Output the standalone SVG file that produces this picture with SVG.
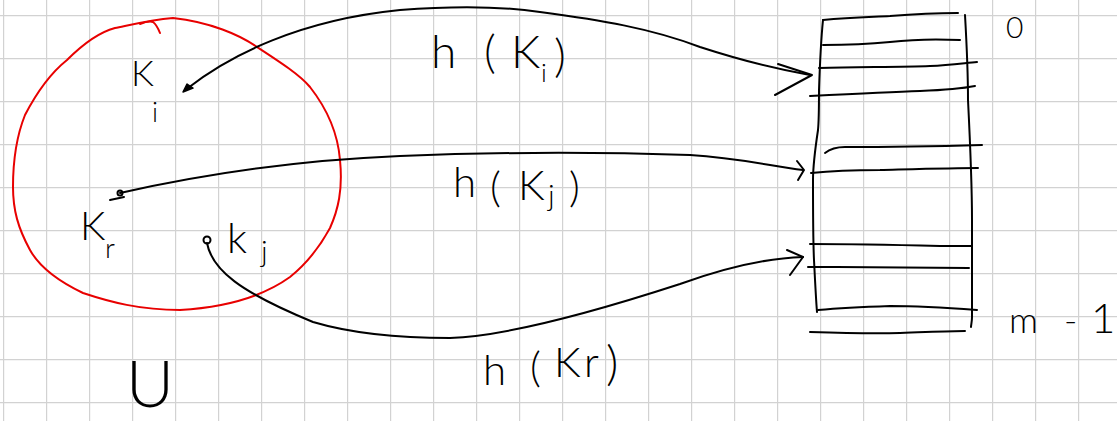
<svg xmlns="http://www.w3.org/2000/svg" width="1117" height="421" viewBox="0 0 1117 421">
  <style>
    .ink { fill: none; stroke: #000; stroke-width: 2; stroke-linecap: round; stroke-linejoin: round; }
    .red { fill: none; stroke: #e80000; stroke-width: 2; stroke-linecap: round; stroke-linejoin: round; }
    .lbl { font-family: Lato, "Open Sans", "DejaVu Sans", sans-serif; font-weight: 300; fill: #000; }
  </style>
  <defs>
    <pattern id="grid" x="3" y="15" width="43" height="43" patternUnits="userSpaceOnUse">
      <path d="M 0 0 V 43 M 0 0 H 43" stroke="#d2d2d2" stroke-width="2.4" fill="none"/>
    </pattern>
  </defs>
  <rect width="1117" height="421" fill="#fff"/>
  <rect width="1117" height="421" fill="url(#grid)"/>

  <g id="universe">
    <path class="red" d="M 173 18 C 210 22 240 35 257 47 C 280 62 300 75 310 87 C 328 110 338 135 340 160 C 343 190 338 210 330 228 C 318 250 305 265 290 277 C 265 295 230 307 180 310 C 140 310 110 302 83 293 C 60 282 40 268 30 250 C 18 228 13 210 13 187 C 13 160 17 135 25 115 C 38 90 52 72 67 60 C 85 42 100 32 115 28 C 130 25 150 20 173 18 Z"/>
    <path class="red" d="M 140 24 C 145 22 150 21 153 22 C 156 24 158 28 160 33"/>
    <text class="lbl" x="126" y="407" font-size="66">U</text>
  </g>

  <g id="key-i">
    <text class="lbl" font-size="36"><tspan x="131" y="86">K</tspan><tspan x="152" y="122" font-size="27">i</tspan></text>
  </g>
  <g id="key-r">
    <text class="lbl" font-size="40"><tspan x="80" y="240">K</tspan><tspan x="105" y="258" font-size="28">r</tspan></text>
  </g>
  <g id="key-j">
    <text class="lbl" font-size="42"><tspan x="227" y="253">k</tspan><tspan x="261" y="262" font-size="30">j</tspan></text>
  </g>

  <g id="table">
    <path class="ink" d="M 823 20 C 821 40 820 60 819 90 C 819 110 819 120 818 130 C 815 150 813 165 813 180 C 813 210 813 240 814 260 C 815 280 816 300 817 312"/>
    <path class="ink" d="M 965 15 C 967 50 968 80 968 100 C 970 140 972 180 972 220 C 972 260 972 290 972 317 C 972 322 971 325 971 327"/>
    <path class="ink" d="M 823 20 C 850 17 870 17 890 16 C 915 14 935 13 958 13"/>
    <path class="ink" d="M 823 45 C 850 45 870 44 890 42 C 915 39 940 39 960 40"/>
    <path class="ink" d="M 819 68 C 860 67 900 67 930 66 C 950 65 965 63 977 62"/>
    <path class="ink" d="M 810 96 C 850 94 890 92 920 91 C 945 90 965 88 975 86"/>
    <path class="ink" d="M 825 153 C 830 149 838 147 845 147 C 900 147 945 146 982 145"/>
    <path class="ink" d="M 811 173 C 830 171 850 170 880 170 C 920 169 955 168 978 168"/>
    <path class="ink" d="M 810 244 C 860 244 900 245 940 246 C 955 246 965 246 972 246"/>
    <path class="ink" d="M 808 267 C 860 267 910 268 969 268"/>
    <path class="ink" d="M 818 310 C 840 308 860 307 890 306 C 920 306 950 308 977 310"/>
    <path class="ink" d="M 810 332 C 840 333 870 334 900 333 C 930 332 950 331 965 331"/>
    <text class="lbl" x="1006" y="38" font-size="30">0</text>
    <text class="lbl" font-size="36"><tspan x="1009" y="333">m</tspan><tspan x="1064" y="333">-</tspan><tspan x="1091" y="333" font-size="42">1</tspan></text>
  </g>

  <g id="connectors">
    <path class="ink" d="M 188 88 C 230 55 300 20 400 10 C 450 6 500 6 540 12 C 600 20 650 28 700 47 C 740 60 770 68 810 75"/>
    <path class="ink" d="M 778 64 L 812 75 L 775 95"/>
    <path d="M 183 92 L 187 84 L 193 88 Z" fill="#000" stroke="#000" stroke-width="1.5" stroke-linejoin="round"/>

    <path class="ink" d="M 120 193 C 200 175 300 160 400 156 C 500 152 600 152 690 155 C 740 158 770 166 803 170"/>
    <path class="ink" d="M 797 161 L 804 170 L 798 180"/>
    <circle cx="120" cy="193" r="2.5" class="ink"/>
    <path class="ink" d="M 110 200 L 124 197"/>

    <path class="ink" d="M 207 243 C 212 270 240 292 313 322 C 350 333 400 338 450 338 C 510 336 600 310 680 284 C 730 266 770 258 803 257"/>
    <path class="ink" d="M 787 250 L 803 257 L 790 275"/>
    <circle cx="207" cy="240" r="3.5" class="ink"/>

    <text class="lbl" font-size="46"><tspan x="431" y="68">h</tspan><tspan x="484" y="68">(</tspan><tspan x="511" y="68">K</tspan><tspan x="541" y="82" font-size="26">i</tspan><tspan x="554" y="72">)</tspan></text>
    <text class="lbl" font-size="42"><tspan x="453" y="197">h</tspan><tspan x="490" y="202">(</tspan><tspan x="518" y="200">K</tspan><tspan x="548" y="206" font-size="30">j</tspan><tspan x="569" y="202">)</tspan></text>
    <text class="lbl" font-size="42"><tspan x="483" y="385">h</tspan><tspan x="530" y="382">(</tspan><tspan x="554" y="377">K</tspan><tspan x="584" y="377">r</tspan><tspan x="606" y="380" font-size="48">)</tspan></text>
  </g>
</svg>
